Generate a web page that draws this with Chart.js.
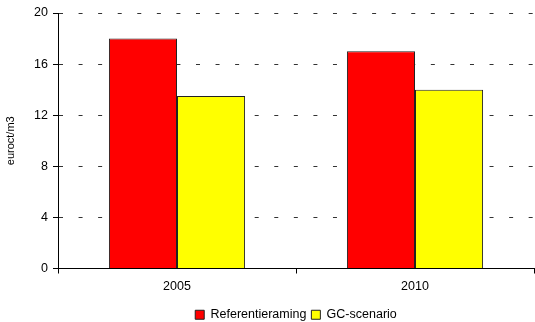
<!DOCTYPE html>
<html>
<head>
<meta charset="utf-8">
<script src="https://cdn.jsdelivr.net/npm/chart.js@4/dist/chart.umd.min.js"></script>
<style>
  html, body { margin: 0; padding: 0; background: #fff; }
  #wrap { width: 535px; height: 322px; }
</style>
</head>
<body>
<div id="wrap"><canvas id="c" width="535" height="322"></canvas></div>
<script>
const categories = ['2005', '2010'];
const referentieraming = [18, 17];
const gcScenario = [13.5, 14];
const yTicks = [0, 4, 8, 12, 16, 20];

const FONT = "'Liberation Sans', Arial, Helvetica, sans-serif";

// Keep the legend tight to the bottom edge and centred under the plot area.
const compactLegend = {
  id: 'compactLegend',
  beforeInit(chart) {
    const legend = chart.legend;
    if (!legend) return;
    const fit = legend.fit;
    legend.fit = function () {
      fit.call(this);
      this.height -= 10;
    };
  },
  afterLayout(chart) {
    const legend = chart.legend;
    if (!legend) return;
    legend.left = chart.chartArea.left;
    legend.right = chart.chartArea.right;
    legend.width = legend.right - legend.left;
  }
};

new Chart(document.getElementById('c'), {
  type: 'bar',
  plugins: [compactLegend],
  data: {
    labels: categories,
    datasets: [
      {
        label: 'Referentieraming',
        data: referentieraming,
        backgroundColor: '#ff0000',
        borderColor: '#222222',
        borderWidth: 1
      },
      {
        label: 'GC-scenario',
        data: gcScenario,
        backgroundColor: '#ffff00',
        borderColor: '#222222',
        borderWidth: 1
      }
    ]
  },
  options: {
    responsive: false,
    animation: false,
    devicePixelRatio: 1,
    categoryPercentage: 0.572,
    barPercentage: 1,
    layout: { padding: { left: 0, right: 1, top: 13, bottom: 1 } },
    plugins: {
      tooltip: { enabled: false },
      legend: {
        position: 'bottom',
        labels: {
          boxWidth: 9,
          boxHeight: 9,
          padding: 5,
          color: '#000',
          font: { family: FONT, size: 12.5 }
        }
      }
    },
    scales: {
      x: {
        grid: {
          offset: true,
          drawOnChartArea: false,
          drawTicks: true,
          tickLength: 5,
          tickColor: '#000'
        },
        border: { display: true, color: '#000', width: 1 },
        ticks: { color: '#000', padding: 6, font: { family: FONT, size: 12.5 } },
        afterFit: (s) => { s.height = 35; }
      },
      y: {
        min: 0,
        max: 20,
        afterBuildTicks: (s) => { s.ticks = yTicks.map(v => ({ value: v })); },
        grid: {
          color: '#333',
          lineWidth: 1,
          drawTicks: true,
          tickLength: 5,
          tickColor: '#000',
          tickBorderDash: []
        },
        border: { display: true, color: '#000', width: 1, dash: [4, 15.57], dashOffset: 0 },
        ticks: { color: '#000', padding: 5, font: { family: FONT, size: 12.5 } },
        title: {
          display: true,
          text: 'euroct/m3',
          color: '#000',
          padding: { top: 4, bottom: 0 },
          font: { family: FONT, size: 11 }
        },
        afterFit: (s) => { s.width = 58; }
      }
    }
  }
});
</script>
</body>
</html>
